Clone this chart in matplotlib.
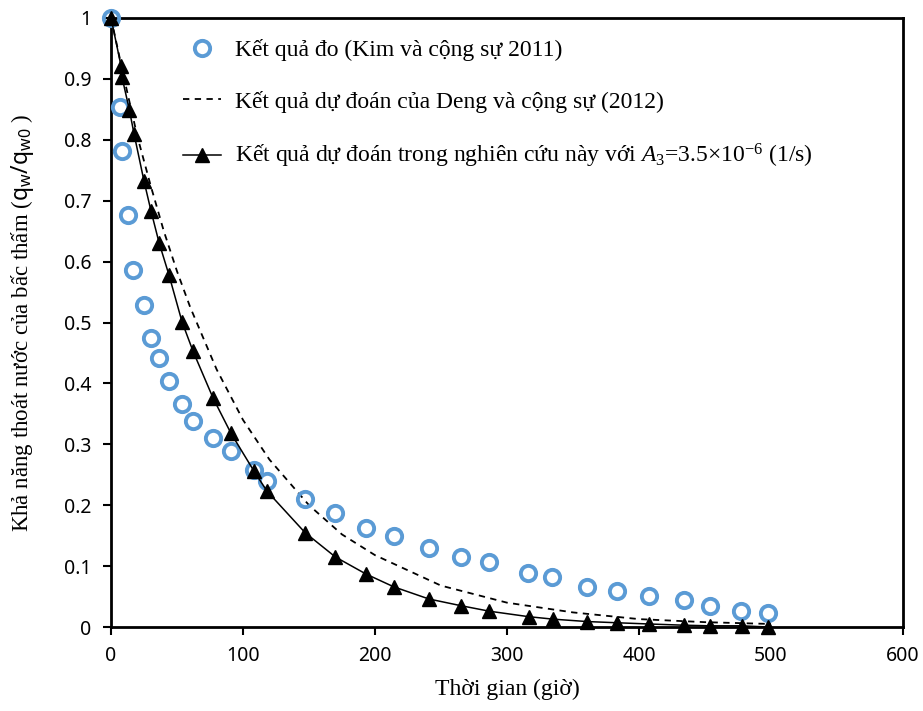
import matplotlib
matplotlib.use("Agg")
import matplotlib.pyplot as plt

# measured data (Kim et al. 2011)
t_meas = [0, 6.8, 8.3, 12.9, 16.7, 25, 30.3, 36.4, 43.9, 53.8, 62.1, 77.3, 90.9, 108.3,
          118.2, 147, 169.7, 193.2, 214.4, 240.9, 265, 286.4, 315.9, 334, 360.6, 383.3,
          407.6, 434, 454, 477, 497.7]
q_meas = [1.0, 0.854, 0.782, 0.677, 0.586, 0.529, 0.475, 0.442, 0.404, 0.366, 0.338, 0.310,
          0.289, 0.258, 0.240, 0.210, 0.187, 0.163, 0.149, 0.130, 0.115, 0.107, 0.089, 0.082,
          0.066, 0.059, 0.051, 0.044, 0.034, 0.026, 0.023]

# Deng et al. (2012) prediction
t_deng = [0, 10, 20, 30, 40, 50, 60, 80, 100, 120, 150, 175, 200, 250, 300, 350, 400, 450, 500]
q_deng = [1.0, 0.90, 0.805, 0.725, 0.65, 0.584, 0.525, 0.423, 0.34, 0.275, 0.20, 0.152,
          0.118, 0.068, 0.04, 0.024, 0.013, 0.008, 0.005]

# this study, A3 = 3.5e-6
t_pred = [0, 7.6, 8.3, 13.9, 17.4, 25, 30.3, 36.4, 43.9, 53.8, 62.1, 77.3, 90.9, 108.3,
          118.2, 147, 170, 193.2, 214.2, 240.9, 265.2, 286.6, 316.4, 334.6, 360.6, 383.5,
          407.6, 434, 453.8, 477.8, 498]
q_pred = [1.0, 0.921, 0.903, 0.849, 0.81, 0.732, 0.683, 0.631, 0.578, 0.501, 0.453, 0.376,
          0.318, 0.256, 0.223, 0.155, 0.115, 0.087, 0.066, 0.046, 0.035, 0.026, 0.017, 0.013,
          0.009, 0.007, 0.005, 0.003, 0.002, 0.002, 0.0]

x_ticks = [0, 100, 200, 300, 400, 500, 600]
y_ticks = [0, 0.1, 0.2, 0.3, 0.4, 0.5, 0.6, 0.7, 0.8, 0.9, 1]
y_tick_labels = ["0", "0.1", "0.2", "0.3", "0.4", "0.5", "0.6", "0.7", "0.8", "0.9", "1"]

plt.rcParams["font.family"] = ["Liberation Serif", "DejaVu Serif"]
plt.rcParams["mathtext.fontset"] = "custom"
plt.rcParams["mathtext.rm"] = "Liberation Serif"
plt.rcParams["mathtext.it"] = "Liberation Serif:italic"
plt.rcParams["mathtext.sf"] = "Noto Sans"

fig = plt.figure(figsize=(9.23, 7.11), dpi=100)
ax = fig.add_axes([0.1203, 0.1181, 0.858, 0.8566])

ax.plot(t_meas, q_meas, linestyle="none", marker="o", markersize=11, markerfacecolor="none",
        markeredgecolor="#5B9BD5", markeredgewidth=2.8, clip_on=False, zorder=3,
        label="Kết quả đo (Kim và cộng sự 2011)")
ax.plot(t_deng, q_deng, color="black", linestyle=(0, (3.5, 3)), linewidth=1.3,
        label="Kết quả dự đoán của Deng và cộng sự (2012)")
ax.plot(t_pred, q_pred, color="black", linewidth=1.1, marker="^", markersize=10,
        clip_on=False, zorder=4,
        label=r"Kết quả dự đoán trong nghiên cứu này với $\mathit{A_3}$=3.5×10$^{\mathrm{-6}}$ (1/s)")

ax.set_xlim(0, 600)
ax.set_ylim(0, 1)
ax.set_xticks(x_ticks)
ax.set_yticks(y_ticks)
ax.set_yticklabels(y_tick_labels)
for lab in ax.get_xticklabels() + ax.get_yticklabels():
    lab.set_fontfamily("Noto Sans")
    lab.set_fontsize(14)
ax.tick_params(direction="out", length=6, width=1.5, pad=8)
for s in ax.spines.values():
    s.set_linewidth(2)

ax.set_xlabel("Thời gian (giờ)", fontsize=17, labelpad=9)
ax.set_ylabel(r"Khả năng thoát nước của bấc thấm ($\mathsf{q_w/q_{w0}}$ )", fontsize=16.5, labelpad=20)

ax.legend(loc="upper left", bbox_to_anchor=(0.064, 1.0), frameon=False, fontsize=17,
          labelspacing=1.25, handlelength=1.6, handletextpad=0.6)

fig.savefig("out.png", dpi=100)
